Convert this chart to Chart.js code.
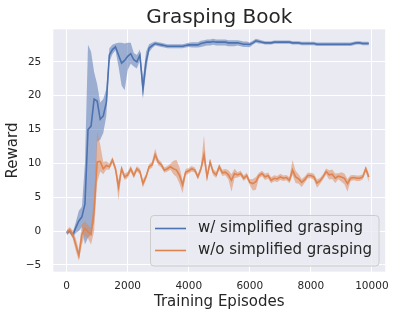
<!DOCTYPE html>
<html>
<head>
<meta charset="utf-8">
<script src="https://cdn.jsdelivr.net/npm/chart.js@4.4.1/dist/chart.umd.min.js"></script>
<style>
html,body{margin:0;padding:0;background:#ffffff;}
canvas{display:block;}
</style>
</head>
<body>
<canvas id="c" width="397" height="318" style="width:397px;height:318px"></canvas>
<script>
const episodes = [0,100,200,300,400,500,600,700,800,900,1000,1100,1200,1300,1400,1500,1600,1700,1800,1900,
2000,2100,2200,2300,2400,2500,2600,2700,2800,2900,3000,3100,3200,3300,3400,3500,3600,3700,3800,3900,
4000,4100,4200,4300,4400,4500,4600,4700,4800,4900,5000,5100,5200,5300,5400,5500,5600,5700,5800,5900,
6000,6100,6200,6300,6400,6500,6600,6700,6800,6900,7000,7100,7200,7300,7400,7500,7600,7700,7800,7900,
8000,8100,8200,8300,8400,8500,8600,8700,8800,8900,9000,9100,9200,9300,9400,9500,9600,9700,9800,9900];

const withSimplified = [-0.3,0.0,-0.6,0.5,1.5,2.1,4.0,15.0,15.5,19.5,
19.2,16.5,17.0,19.0,26.0,26.8,27.2,26.0,24.8,25.2,
25.8,26.2,25.3,25.0,26.0,21.0,25.0,27.0,27.4,27.7,
27.6,27.5,27.4,27.3,27.3,27.3,27.3,27.3,27.3,27.4,
27.5,27.5,27.5,27.5,27.7,27.8,27.9,27.9,28.0,27.9,
27.9,27.9,27.9,27.8,27.8,27.8,27.8,27.7,27.6,27.6,
27.55,27.8,28.1,28.0,27.9,27.8,27.8,27.8,27.9,27.9,
27.9,27.9,27.9,27.9,27.8,27.8,27.8,27.7,27.7,27.7,
27.7,27.7,27.6,27.6,27.6,27.6,27.6,27.6,27.6,27.6,
27.6,27.6,27.6,27.6,27.7,27.8,27.8,27.7,27.7,27.7];
const withSpreadDown = [0.3,0.3,0.4,0.8,1.5,1.5,6.0,16.0,16.0,18.0,
6.0,3.0,2.5,2.0,1.0,0.7,0.5,1.7,3.3,4.4,
2.0,1.5,1.0,1.0,0.8,1.5,1.5,0.6,0.4,0.3,
0.3,0.3,0.3,0.3,0.3,0.3,0.3,0.3,0.3,0.3,
0.3,0.4,0.4,0.4,0.5,0.5,0.5,0.5,0.5,0.5,
0.5,0.5,0.5,0.5,0.5,0.5,0.4,0.4,0.4,0.4,
0.4,0.3,0.3,0.3,0.25,0.25,0.25,0.25,0.25,0.25,
0.25,0.25,0.25,0.25,0.25,0.25,0.25,0.25,0.25,0.25,
0.25,0.25,0.25,0.25,0.25,0.25,0.25,0.25,0.25,0.25,
0.25,0.25,0.25,0.25,0.25,0.25,0.25,0.25,0.25,0.25];
const withSpreadUp = [0.3,0.3,0.4,0.8,1.5,1.5,6.0,12.5,11.0,4.0,
2.5,2.5,2.5,2.0,1.0,0.7,0.5,1.8,3.0,2.5,
2.0,1.6,1.0,1.0,0.8,1.5,1.5,0.6,0.4,0.3,
0.3,0.3,0.3,0.3,0.3,0.3,0.3,0.3,0.3,0.3,
0.3,0.4,0.4,0.4,0.4,0.4,0.4,0.4,0.4,0.4,
0.4,0.4,0.4,0.4,0.4,0.4,0.4,0.4,0.4,0.4,
0.3,0.3,0.3,0.3,0.25,0.25,0.25,0.25,0.25,0.25,
0.25,0.25,0.25,0.25,0.25,0.25,0.25,0.25,0.25,0.25,
0.25,0.25,0.25,0.25,0.25,0.25,0.25,0.25,0.25,0.25,
0.25,0.25,0.25,0.25,0.25,0.25,0.25,0.25,0.25,0.25];

const withoutSimplified = [-0.15,0.2,-0.5,-2.0,-3.6,-0.5,0.4,-0.1,-0.5,3.0,
10.2,10.3,9.2,9.7,9.5,10.5,9.2,6.5,9.2,8.0,
8.3,9.2,8.2,9.2,8.8,7.0,8.0,9.5,9.8,11.3,
10.2,9.8,9.0,9.2,9.5,9.2,9.0,8.2,6.8,8.7,
8.9,9.2,9.0,8.0,9.2,11.3,8.0,10.2,8.7,8.3,
9.5,8.6,8.7,8.3,7.5,8.5,8.3,8.5,7.8,8.2,
7.2,7.0,7.3,8.2,8.5,8.0,8.2,7.5,7.8,7.7,
8.0,7.8,7.9,7.5,9.0,8.0,7.7,7.2,7.6,8.2,
8.2,8.0,7.1,7.4,8.0,8.8,8.3,8.4,7.8,8.1,
8.0,7.8,7.0,7.8,7.9,7.8,7.8,8.0,9.2,8.0];
const withoutSpreadDown = [0.3,0.4,0.6,0.9,0.8,1.5,1.0,1.0,1.5,3.0,
3.0,1.5,0.8,0.6,0.45,0.45,0.45,2.0,0.45,0.45,
0.45,0.45,0.4,0.4,0.4,0.6,0.4,0.4,0.45,0.6,
0.45,0.4,0.4,0.4,0.45,0.8,1.0,1.2,1.2,0.45,
0.4,0.4,0.4,0.4,0.45,1.0,0.45,0.45,0.45,0.45,
0.45,0.45,0.45,0.7,1.7,0.7,0.4,0.4,0.4,0.4,
0.45,1.0,1.2,0.4,0.4,0.45,0.45,0.45,0.45,0.45,
0.45,0.4,0.4,0.45,0.7,0.9,0.7,0.7,0.45,0.4,
0.4,0.45,0.7,0.45,0.4,0.45,0.7,0.7,0.7,0.45,
0.7,0.9,1.2,0.45,0.4,0.4,0.4,0.4,0.45,0.8];
const withoutSpreadUp = [0.3,0.4,0.6,0.9,0.8,1.5,1.0,1.0,1.0,2.0,
4.5,2.5,1.0,0.6,0.45,0.45,0.45,1.0,0.45,0.45,
0.45,0.45,0.4,0.4,0.4,0.6,0.4,0.4,0.45,0.9,
0.45,0.4,0.4,0.4,0.45,1.2,1.5,1.2,0.7,0.45,
0.4,0.4,0.4,0.4,0.45,2.8,0.45,0.45,0.45,0.45,
0.45,0.45,0.45,0.7,0.9,0.7,0.4,0.4,0.4,0.4,
0.45,0.7,0.7,0.4,0.4,0.45,0.45,0.45,0.45,0.45,
0.45,0.4,0.4,0.45,1.5,0.9,0.7,0.5,0.45,0.4,
0.4,0.45,0.5,0.45,0.4,0.45,0.7,0.7,0.7,0.45,
0.7,0.7,0.7,0.45,0.4,0.4,0.4,0.4,0.45,0.5];

const seriesLabels = ['w/ simplified grasping', 'w/o simplified grasping'];
const chartTitle = 'Grasping Book';
const xTicks = [0, 2000, 4000, 6000, 8000, 10000];
const yTicks = [-5, 0, 5, 10, 15, 20, 25];

const BLUE = '#4c72b0', ORANGE = '#dd8452';
const BLUE_BAND = 'rgba(76,114,176,0.5)', ORANGE_BAND = 'rgba(221,132,82,0.5)';
const TEXT = '#262626';
const FONT = "'DejaVu Sans', sans-serif";

function pts(ys) { return episodes.map((x, i) => ({x: x, y: ys[i]})); }
function shifted(ys, d, sign) { return ys.map((v, i) => v + sign * d[i]); }

const bandCommon = {pointRadius: 0, borderWidth: 0, tension: 0, pointHitRadius: 0};

const datasets = [
  Object.assign({label: '_b_lo', data: pts(shifted(withSimplified, withSpreadDown, -1)), fill: false, order: 3, borderColor: 'rgba(0,0,0,0)'}, bandCommon),
  Object.assign({label: '_b_hi', data: pts(shifted(withSimplified, withSpreadUp, 1)), fill: '-1', backgroundColor: BLUE_BAND, order: 3, borderColor: 'rgba(0,0,0,0)'}, bandCommon),
  {label: seriesLabels[0], data: pts(withSimplified), borderColor: BLUE, borderWidth: 1.6, pointRadius: 0, tension: 0, fill: false, order: 2},
  Object.assign({label: '_o_lo', data: pts(shifted(withoutSimplified, withoutSpreadDown, -1)), fill: false, order: 1, borderColor: 'rgba(0,0,0,0)'}, bandCommon),
  Object.assign({label: '_o_hi', data: pts(shifted(withoutSimplified, withoutSpreadUp, 1)), fill: '-1', backgroundColor: ORANGE_BAND, order: 1, borderColor: 'rgba(0,0,0,0)'}, bandCommon),
  {label: seriesLabels[1], data: pts(withoutSimplified), borderColor: ORANGE, borderWidth: 1.6, pointRadius: 0, tension: 0, fill: false, order: 0}
];

const bgPlugin = {
  id: 'bg',
  beforeDraw(chart) {
    const {ctx, chartArea: a} = chart;
    ctx.save();
    ctx.fillStyle = '#eaeaf2';
    ctx.fillRect(a.left, a.top, a.right - a.left, a.bottom - a.top);
    ctx.restore();
  }
};

const titleAndLegendPlugin = {
  id: 'titleAndLegend',
  afterDraw(chart) {
    const ctx = chart.ctx;
    const a = chart.chartArea;
    ctx.save();
    // title centred over the plot area
    ctx.font = "20px " + FONT;
    ctx.fillStyle = TEXT;
    ctx.textAlign = 'center';
    ctx.textBaseline = 'alphabetic';
    ctx.fillText(chartTitle, (a.left + a.right) / 2, 22.5);
    // legend
    const items = chart.data.datasets.filter(d => !d.label.startsWith('_'));
    const x0 = 150.5, y0 = 215.5, w = 228.5, h = 50.5, r = 3.5;
    ctx.beginPath();
    ctx.moveTo(x0 + r, y0);
    ctx.lineTo(x0 + w - r, y0);
    ctx.arcTo(x0 + w, y0, x0 + w, y0 + r, r);
    ctx.lineTo(x0 + w, y0 + h - r);
    ctx.arcTo(x0 + w, y0 + h, x0 + w - r, y0 + h, r);
    ctx.lineTo(x0 + r, y0 + h);
    ctx.arcTo(x0, y0 + h, x0, y0 + h - r, r);
    ctx.lineTo(x0, y0 + r);
    ctx.arcTo(x0, y0, x0 + r, y0, r);
    ctx.closePath();
    ctx.fillStyle = 'rgba(234,234,242,0.8)';
    ctx.fill();
    ctx.strokeStyle = '#cccccc';
    ctx.lineWidth = 1;
    ctx.stroke();
    ctx.font = "15px " + FONT;
    ctx.textBaseline = 'middle';
    ctx.textAlign = 'left';
    items.forEach((d, i) => {
      const yy = 228.5 + i * 22;
      ctx.beginPath();
      ctx.moveTo(155, yy);
      ctx.lineTo(186, yy);
      ctx.strokeStyle = d.borderColor;
      ctx.lineWidth = 1.6;
      ctx.stroke();
      ctx.fillStyle = TEXT;
      ctx.fillText(d.label, 198, yy);
    });
    ctx.restore();
  }
};

new Chart(document.getElementById('c'), {
  type: 'line',
  data: {datasets: datasets},
  plugins: [bgPlugin, titleAndLegendPlugin],
  options: {
    responsive: false,
    animation: false,
    devicePixelRatio: 1,
    layout: {padding: {left: 0, right: 10.3, top: 29.3, bottom: 0}},
    plugins: {
      legend: {display: false},
      tooltip: {enabled: false},
      title: {display: false},
      filler: {propagate: false, drawTime: 'beforeDatasetDraw'}
    },
    scales: {
      x: {
        type: 'linear',
        min: -437,
        max: 10437,
        afterBuildTicks(s) { s.ticks = xTicks.map(v => ({value: v})); },
        afterFit(s) { s.height = 46.3; },
        grid: {color: '#ffffff', lineWidth: 1, drawTicks: false},
        border: {display: false},
        ticks: {color: TEXT, font: {family: FONT, size: 10.5}, padding: 8, maxRotation: 0, autoSkip: false,
                callback: v => String(v)},
        title: {display: true, text: 'Training Episodes', color: TEXT,
                font: {family: FONT, size: 15}, padding: {top: 0, bottom: 7}}
      },
      y: {
        type: 'linear',
        min: -6,
        max: 29.8,
        afterBuildTicks(s) { s.ticks = yTicks.map(v => ({value: v})); },
        afterFit(s) { s.width = 53.3; },
        grid: {color: '#ffffff', lineWidth: 1, drawTicks: false},
        border: {display: false},
        ticks: {color: TEXT, font: {family: FONT, size: 10.5}, padding: 12, autoSkip: false,
                callback: v => v < 0 ? '\u2212' + Math.abs(v) : String(v)},
        title: {display: true, text: 'Reward', color: TEXT,
                font: {family: FONT, size: 15}, padding: {top: 4, bottom: 0}}
      }
    }
  }
});
</script>
</body>
</html>
